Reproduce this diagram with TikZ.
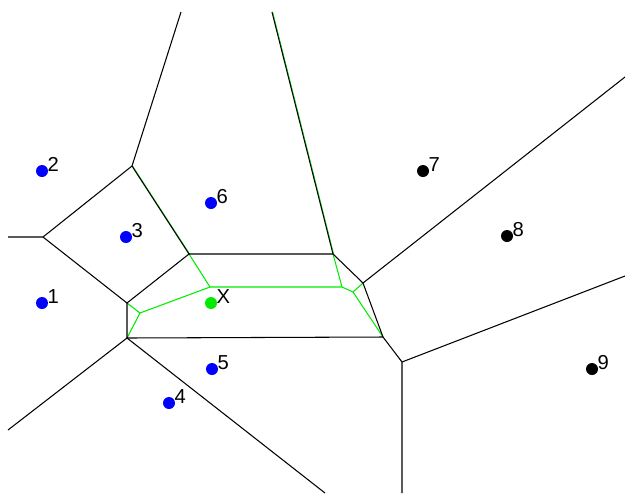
\documentclass[tikz,border=0pt]{standalone}
\usepackage{fontspec}
\setmainfont{Liberation Sans}
\usepackage{xcolor}
\usetikzlibrary{positioning}

\definecolor{siteblue}{RGB}{0,0,255}
\definecolor{cellgreen}{RGB}{0,235,0}

\begin{document}
\begin{tikzpicture}[
        x=0.02cm, y=-0.02cm,
        site/.style={circle, fill=#1, inner sep=0pt, minimum size=0.24cm},
        tag/.style={anchor=base west, inner sep=0pt, font=\fontsize{11.5}{13}\selectfont},
        edge/.style={draw, black, line width=0.6pt},
        cell/.style={draw, cellgreen, line width=0.6pt}
    ]
        \useasboundingbox (0,0) rectangle (625,495);

        % sites
        \node [site=siteblue] (s1) at (42,303) {};
        \node [site=siteblue] (s2) at (42,171) {};
        \node [site=siteblue] (s3) at (126,237) {};
        \node [site=siteblue] (s4) at (169,403) {};
        \node [site=siteblue] (s5) at (212,369) {};
        \node [site=siteblue] (s6) at (211,203) {};
        \node [site=black] (s7) at (423,171) {};
        \node [site=black] (s8) at (507,236) {};
        \node [site=black] (s9) at (592,369) {};
        \node [site=cellgreen] (sx) at (211,303) {};

        \foreach \s/\t in {s1/1, s2/2, s3/3, s4/4, s5/5, s6/6, s7/7, s8/8, s9/9, sx/X}
            \node [tag] at ([xshift=-0.02cm]\s.east) {\t};

        % vertices
        \coordinate (a) at (132,166);
        \coordinate (b) at (43,237);
        \coordinate (c) at (127,303);
        \coordinate (d) at (189,254);
        \coordinate (e) at (333,254);
        \coordinate (f) at (363,283);
        \coordinate (g) at (383,337);
        \coordinate (h) at (127,338);
        \coordinate (i) at (402,362);
        % free ends
        \coordinate (ta) at (181,12);
        \coordinate (tb) at (8,237);
        \coordinate (te) at (272,12);
        \coordinate (tf) at (625,77);
        \coordinate (ti) at (402,493);
        \coordinate (ri) at (625,276);
        \coordinate (lh) at (8,430);
        \coordinate (bh) at (325,493);
        % inner cell
        \coordinate (p1) at (140,313);
        \coordinate (p2) at (210,287);
        \coordinate (p3) at (342,287);
        \coordinate (p4) at (353,292);

        % green cell of X
        \path [cell] (c) -- (p1) -- (h);
        \path [cell] (p1) -- (p2) -- (p3) -- (p4) -- (g);
        \path [cell] (d) -- (p2);
        \path [cell] (e) -- (p3);
        \path [cell] (f) -- (p4);
        \path [cell, line width=0.35pt] ([xshift=0.015cm]a) -- ([xshift=0.015cm]d);
        \path [cell, line width=0.35pt] ([xshift=0.015cm]te) -- ([xshift=0.015cm]e);

        % voronoi edges
        \path [edge] (ta) -- (a) -- (b) -- (tb);
        \path [edge] (b) -- (c) -- (d) -- (a);
        \path [edge] (c) -- (h) -- (g) -- (f) -- (e) -- (d);
        \path [edge] (te) -- (e);
        \path [edge] (f) -- (tf);
        \path [edge] (g) -- (i) -- (ti);
        \path [edge] (i) -- (ri);
        \path [edge] (lh) -- (h) -- (bh);
    \end{tikzpicture}
\end{document}
